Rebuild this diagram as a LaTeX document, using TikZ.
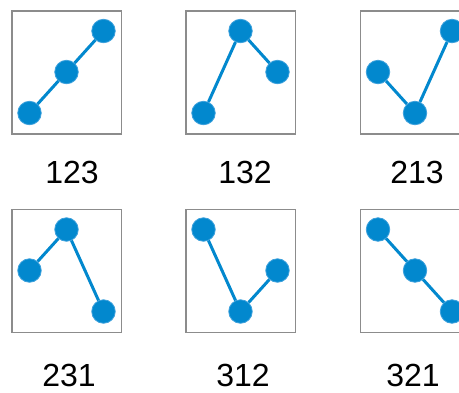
\documentclass[tikz,border=0pt]{standalone}
\usepackage{fontspec}
\setmainfont{Liberation Sans}
\definecolor{dotblue}{RGB}{2,136,206}
\definecolor{ringblue}{RGB}{60,160,220}
\definecolor{framegray}{RGB}{140,140,140}
\tikzset{
  panelbox/.style={draw=framegray, line width=1.2pt},
  dot/.style={circle, fill=dotblue, draw=ringblue, line width=0.8pt, minimum size=23.5pt, inner sep=0pt},
  link/.style={draw=dotblue, line width=3pt},
  permlabel/.style={font=\fontsize{32}{34}\selectfont, inner sep=0pt, anchor=base}
}
\begin{document}
\begin{tikzpicture}[x=1pt,y=-1pt]
\clip (0,0) rectangle (459,392);
\fill[white] (0,0) rectangle (459,392);
\foreach \n/\lx/\ty/\a/\b/\c/\tx/\txy/\txt in {
  p1/12/11/1/2/3/72/183.5/123,
  p2/186/11/1/3/2/245/183.5/132,
  p3/360.5/11/2/1/3/417/183.5/213,
  p4/12/209.5/2/3/1/69/386/231,
  p5/186/209.5/3/1/2/243/386/312,
  p6/360.5/209.5/3/2/1/413/386/321}{
  \draw[panelbox] (\lx,\ty) rectangle ++(109.5,123);
  \node[dot] (\n-a) at ({\lx+17.5},{\ty+20+41*(3-\a)}) {};
  \node[dot] (\n-b) at ({\lx+54.5},{\ty+20+41*(3-\b)}) {};
  \node[dot] (\n-c) at ({\lx+91.5},{\ty+20+41*(3-\c)}) {};
  \draw[link] (\n-a) -- (\n-b);
  \draw[link] (\n-b) -- (\n-c);
  \node[permlabel] (\n-label) at (\tx,\txy) {\txt};
}
\end{tikzpicture}
\end{document}
